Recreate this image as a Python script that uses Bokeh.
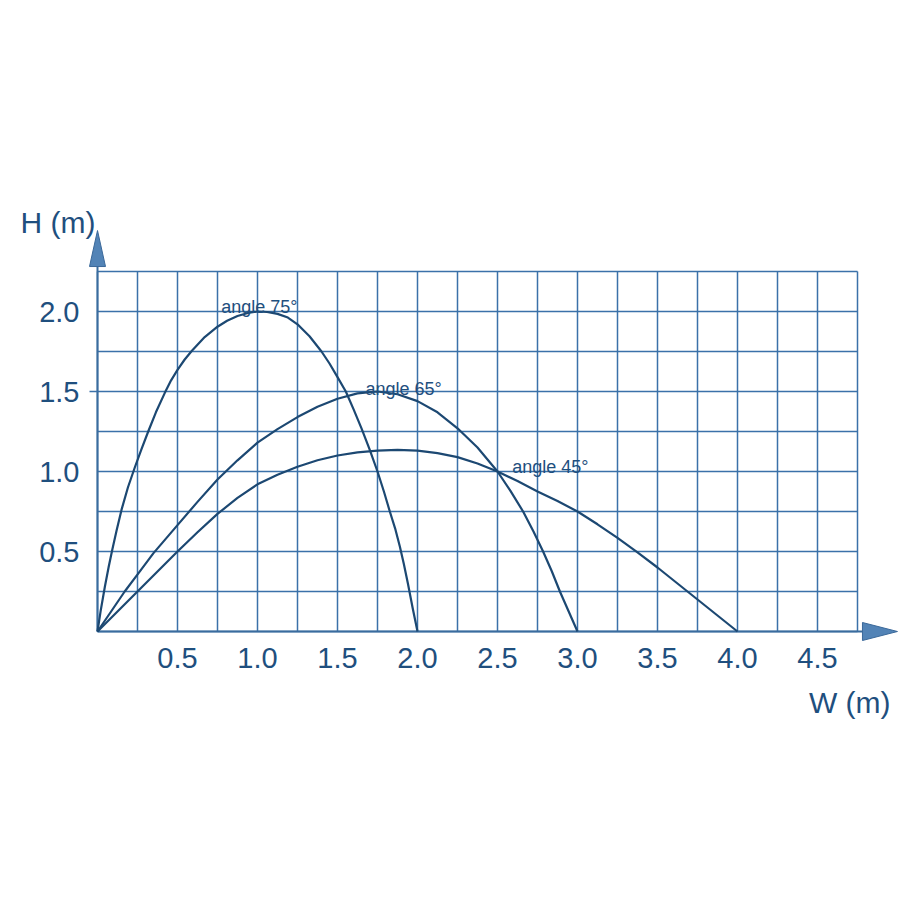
import numpy as np
from bokeh.plotting import figure
from bokeh.models import Range1d, FixedTicker, Label, ColumnDataSource
from bokeh.embed import file_html
from bokeh.resources import INLINE
from bokeh.core.properties import value

# ---- data ----
w75 = [0, 0.02, 0.046, 0.07, 0.092, 0.12, 0.15, 0.19, 0.233, 0.275, 0.317, 0.365,
       0.42, 0.46, 0.5, 0.545, 0.59, 0.67, 0.75, 0.81, 0.875, 0.94, 1.0, 1.06,
       1.125, 1.19, 1.25, 1.325, 1.4, 1.45, 1.5, 1.552, 1.6, 1.65, 1.7, 1.75,
       1.79, 1.827, 1.86, 1.89, 1.915, 1.94, 1.97, 2.0]
h75 = [0, 0.13, 0.28, 0.405, 0.51, 0.635, 0.76, 0.9, 1.025, 1.14, 1.25, 1.37,
       1.49, 1.57, 1.635, 1.70, 1.755, 1.84, 1.905, 1.942, 1.972, 1.991, 2.0, 1.997,
       1.985, 1.962, 1.92, 1.845, 1.75, 1.675, 1.59, 1.5, 1.39, 1.27, 1.14, 1.0,
       0.875, 0.75, 0.645, 0.53, 0.42, 0.30, 0.145, 0]

w65 = [0, 0.085, 0.17, 0.26, 0.35, 0.5, 0.625, 0.75, 0.875, 1.0, 1.125, 1.25,
       1.375, 1.5, 1.625, 1.75, 1.875, 2.0, 2.125, 2.25, 2.375, 2.5, 2.58,
       2.66, 2.725, 2.785, 2.84, 2.89, 2.945, 3.0]
h65 = [0, 0.125, 0.25, 0.37, 0.49, 0.665, 0.81, 0.95, 1.07, 1.18, 1.265, 1.34,
       1.405, 1.455, 1.488, 1.5, 1.483, 1.44, 1.37, 1.27, 1.15, 1.0, 0.88,
       0.75, 0.625, 0.5, 0.375, 0.25, 0.125, 0]

w45 = [0, 0.25, 0.5, 0.625, 0.75, 0.875, 1.0, 1.125, 1.25, 1.375, 1.5, 1.625,
       1.75, 1.875, 2.0, 2.125, 2.25, 2.375, 2.5, 2.625, 2.75, 2.875, 3.0,
       3.125, 3.25, 3.375, 3.5, 3.625, 3.75, 3.875, 4.0]
h45 = [0, 0.25, 0.5, 0.62, 0.735, 0.835, 0.92, 0.98, 1.03, 1.07, 1.10, 1.12,
       1.13, 1.135, 1.13, 1.115, 1.09, 1.05, 1.0, 0.94, 0.875, 0.815, 0.75,
       0.67, 0.585, 0.495, 0.40, 0.30, 0.20, 0.10, 0]

x_ticks = [0.5, 1.0, 1.5, 2.0, 2.5, 3.0, 3.5, 4.0, 4.5]
x_tick_labels = ["0.5", "1.0", "1.5", "2.0", "2.5", "3.0", "3.5", "4.0", "4.5"]
y_ticks = [0.5, 1.0, 1.5, 2.0]
y_tick_labels = ["0.5", "1.0", "1.5", "2.0"]

curve_labels = ["angle 75°", "angle 65°", "angle 45°"]
curve_label_x = [0.773, 1.675, 2.592]
curve_label_y = [2.027, 1.517, 1.031]

x_title = "W (m)"
y_title = "H (m)"

grid_step = 0.25
x_max = 4.75
y_max = 2.25

# ---- layout ----
W = 898
H = 898
PX = 1.0 / 160.0      # data units per pixel
X0 = 97               # canvas px of x = 0
Y0 = 631              # canvas px of y = 0 (from top)

GRID = "#3b71a9"
CURVE = "#1c4872"
TEXT = "#1f4f7e"
FONT = "Liberation Sans"

p = figure(width=W, height=H,
           x_range=Range1d(-X0 * PX, (W - X0) * PX),
           y_range=Range1d(-(H - Y0) * PX, Y0 * PX),
           output_backend="svg", toolbar_location=None, min_border=0,
           background_fill_color="white", border_fill_color="white",
           outline_line_color=None)
p.xgrid.visible = False
p.ygrid.visible = False

# grid
gx = np.arange(0, x_max + 1e-9, grid_step)
gy = np.arange(0, y_max + 1e-9, grid_step)
p.segment(x0=gx, y0=np.zeros_like(gx), x1=gx, y1=np.full_like(gx, y_max),
          line_color=GRID, line_width=1.5)
p.segment(x0=np.zeros_like(gy), y0=gy, x1=np.full_like(gy, x_max), y1=gy,
          line_color=GRID, line_width=1.5)

# axes lines
p.segment(x0=[0, 0], y0=[0, 0], x1=[0, 4.781], y1=[2.281, 0],
          line_color="#3a6c9e", line_width=2)
# small tick at 1.5 on left
p.segment(x0=[-8 * PX], y0=[1.5], x1=[0], y1=[1.5], line_color=GRID, line_width=1.4)

# arrows
ay_base = 2.281
ay_tip = ay_base + 36 * PX
ax_base = 4.781
ax_tip = ax_base + 35 * PX
p.patches(xs=[[-8 * PX, 0, 8 * PX], [ax_base, ax_tip, ax_base]],
          ys=[[ay_base, ay_tip, ay_base], [-9 * PX, 0, 9 * PX]],
          fill_color="#5283b6", line_color="#3a6899", line_width=1)

# curves
for ws, hs in ((w75, h75), (w65, h65), (w45, h45)):
    p.line(ws, hs, line_color=CURVE, line_width=2.2, line_join="round")

# curve labels
src = ColumnDataSource(dict(x=curve_label_x, y=curve_label_y, t=curve_labels))
p.text(x="x", y="y", text="t", source=src, text_font=value(FONT),
       text_font_size="18px", text_color=TEXT, text_align="left",
       text_baseline="alphabetic")

# axes (tick labels)
xa = p.xaxis[0]
xa.fixed_location = 0
xa.ticker = FixedTicker(ticks=x_ticks)
xa.major_label_overrides = {t: l for t, l in zip(x_ticks, x_tick_labels)}
ya = p.yaxis[0]
ya.fixed_location = 0
ya.ticker = FixedTicker(ticks=y_ticks)
ya.major_label_overrides = {t: l for t, l in zip(y_ticks, y_tick_labels)}
for ax in (xa, ya):
    ax.axis_line_color = None
    ax.major_tick_line_color = None
    ax.minor_tick_line_color = None
    ax.major_tick_in = 0
    ax.major_tick_out = 0
    ax.major_label_text_font = FONT
    ax.major_label_text_font_size = "29px"
    ax.major_label_text_color = TEXT
xa.major_label_standoff = 16
ya.major_label_standoff = 18

# titles
p.add_layout(Label(x=-77 * PX, y=409 * PX, text=y_title, text_font=FONT,
                   text_font_size="30px", text_color=TEXT,
                   text_align="left", text_baseline="alphabetic"))
p.add_layout(Label(x=793 * PX, y=-71 * PX, text=x_title, text_font=FONT,
                   text_font_size="30px", text_color=TEXT,
                   text_align="right", text_baseline="alphabetic"))

open("out.html", "w").write(file_html(p, INLINE))
